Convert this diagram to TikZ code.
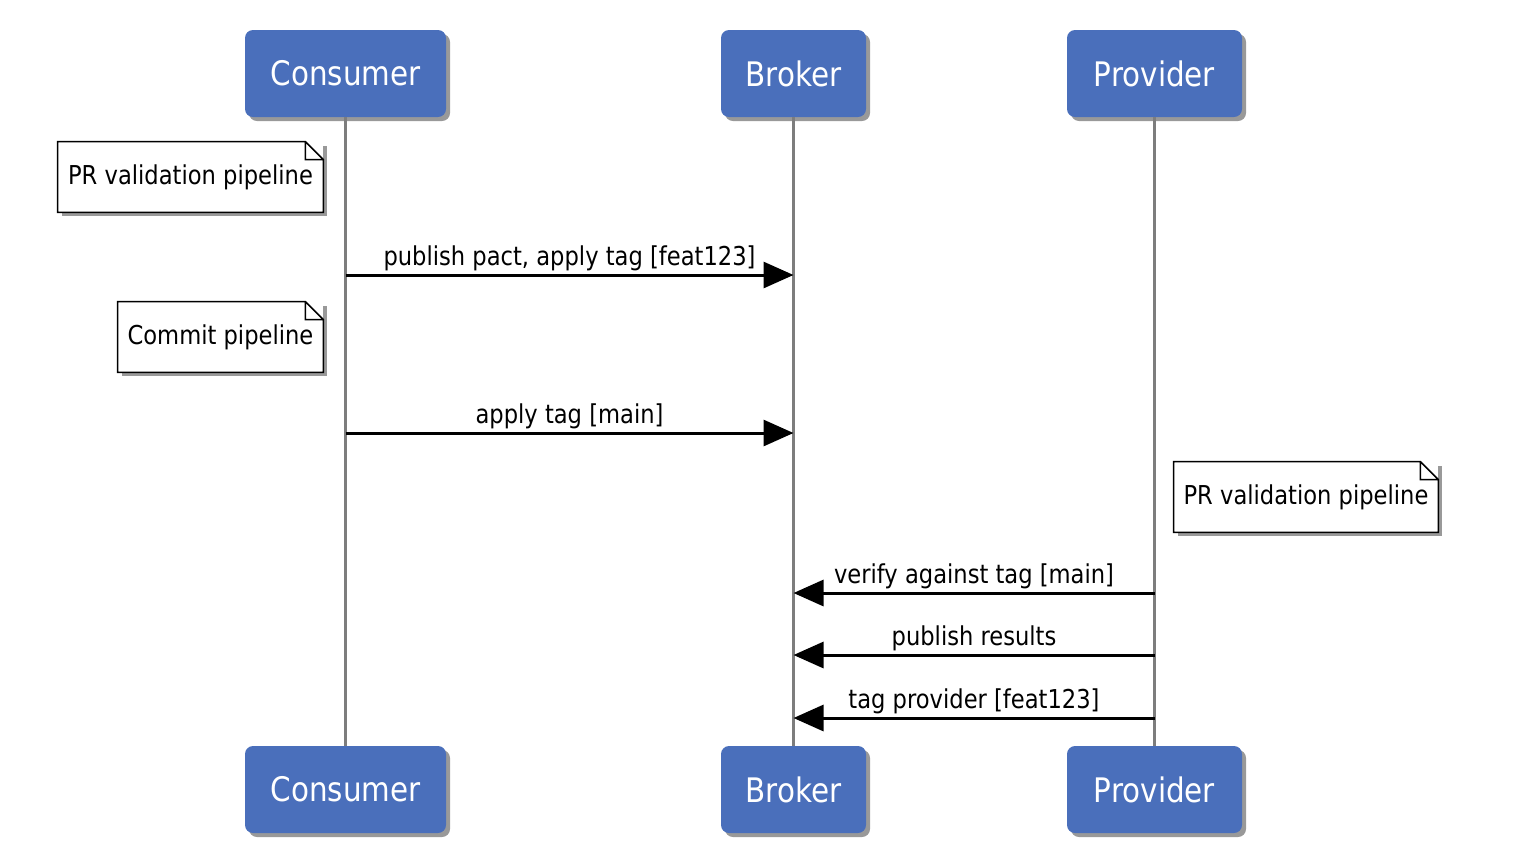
\documentclass[tikz,border=0pt]{standalone}
\usepackage{fontspec}
\setmainfont{DejaVu Sans}[FakeStretch=0.87]
\usepackage{tikz}
\usetikzlibrary{arrows.meta}
\usetikzlibrary{shadows}
\usetikzlibrary{positioning}
\definecolor{actorblue}{RGB}{74,111,187}
\definecolor{lifegray}{RGB}{125,125,125}

\begin{document}
\begin{tikzpicture}[x=0.5pt, y=-0.5pt]
	\useasboundingbox (0,0) rectangle (1524,858);

	% participants, top and bottom
	\begin{scope}[every node/.style={rounded corners=4pt, fill=actorblue, text=white,
	              minimum height=43.5pt, font=\fontsize{16.9}{20}\selectfont,
	              drop shadow={shadow xshift=2pt, shadow yshift=-2pt, fill=black, opacity=0.4}}]
		\node[minimum width=100.5pt] (consTop) at (345.5,73.5) {Consumer};
		\node[minimum width=72.5pt] (brokTop) at (793.5,73.5) {Broker};
		\node[minimum width=87.5pt] (provTop) at (1154.5,73.5) {Provider};
		\node[minimum width=100.5pt] (consBot) at (345.5,789.5) {Consumer};
		\node[minimum width=72.5pt] (brokBot) at (793.5,789.5) {Broker};
		\node[minimum width=87.5pt] (provBot) at (1154.5,789.5) {Provider};
	\end{scope}

	% lifelines
	\begin{scope}[every edge/.style={draw=lifegray, line width=1.25pt}]
		\path (consTop) edge (consBot);
		\path (brokTop) edge (brokBot);
		\path (provTop) edge (provBot);
	\end{scope}

	% notes
	\begin{scope}[every node/.style={rectangle, fill=white, minimum height=35pt,
	              font=\fontsize{13}{15}\selectfont,
	              drop shadow={shadow xshift=2pt, shadow yshift=-2pt, fill=black, opacity=0.4}}]
		\node[minimum width=132.5pt] (note1) at (190.5,177) {PR validation pipeline};
		\node[minimum width=102.5pt] (note2) at (220.5,337) {Commit pipeline};
		\node[minimum width=132pt] (note3) at (1306,497) {PR validation pipeline};
	\end{scope}
	\foreach \n in {note1,note2,note3}
		\draw[line width=0.75pt] (\n.north west) -- ([xshift=-9pt]\n.north east)
			-- ([yshift=-9pt]\n.north east) -- (\n.south east) -- (\n.south west) -- cycle
			([xshift=-9pt]\n.north east) |- ([yshift=-9pt]\n.north east);

	% messages
	\begin{scope}[>={Triangle[length=15pt, width=13pt]},
	              every node/.style={above, inner sep=1.5pt, font=\fontsize{13}{15}\selectfont},
	              every edge/.style={draw=black, line width=1.5pt, ->}]
		\coordinate (m1) at (0,275);
		\coordinate (m2) at (0,433);
		\coordinate (m3) at (0,593);
		\coordinate (m4) at (0,655);
		\coordinate (m5) at (0,718);
		\path (consTop |- m1) edge node {publish pact, apply tag [feat123]} (brokTop |- m1);
		\path (consTop |- m2) edge node {apply tag [main]} (brokTop |- m2);
		\path (provTop |- m3) edge node {verify against tag [main]} (brokTop |- m3);
		\path (provTop |- m4) edge node {publish results} (brokTop |- m4);
		\path (provTop |- m5) edge node {tag provider [feat123]} (brokTop |- m5);
	\end{scope}
\end{tikzpicture}
\end{document}
